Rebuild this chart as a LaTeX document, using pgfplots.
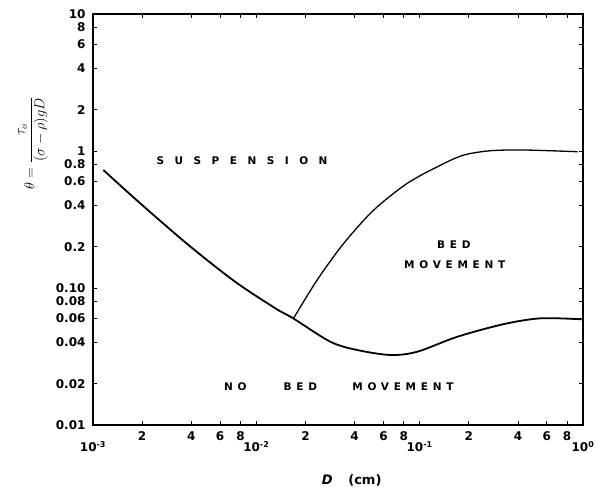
\documentclass[border=0pt]{standalone}
\usepackage{fontspec}
\setmainfont{DejaVu Sans}
\newfontfamily\widefont[LetterSpace=100]{DejaVu Sans}
\newfontfamily\midfont[LetterSpace=45]{DejaVu Sans}
\usepackage{pgfplots}
\pgfplotsset{compat=1.18}

\begin{document}
\begin{tikzpicture}
\begin{axis}[
    name=ax,
    xmode=log, ymode=log,
    width=490pt, height=411pt, scale only axis,
    xmin=1e-3, xmax=1, ymin=0.01, ymax=10,
    axis line style={line width=1.2pt},
    tick align=inside,
    xtick pos=both, ytick pos=both,
    major tick length=4pt,
    minor tick length=0pt,
    tick style={line width=0.8pt, black},
    xtick={0.002,0.004,0.006,0.008,0.02,0.04,0.06,0.08,0.2,0.4,0.6,0.8},
    xticklabels={2,4,6,8,2,4,6,8,2,4,6,8},
    extra x ticks={0.001,0.01,0.1,1},
    extra x tick labels={10\textsuperscript{-3},10\textsuperscript{-2},10\textsuperscript{-1},10\textsuperscript{0}},
    extra x tick style={xticklabel style={yshift=-10pt}},
    ytick={0.01,0.02,0.04,0.06,0.08,0.1,0.2,0.4,0.6,0.8,1,2,4,6,8,10},
    yticklabels={0.01,0.02,0.04,0.06,0.08,0.10,0.2,0.4,0.6,0.8,1,2,4,6,8,10},
    tick label style={font=\bfseries\fontsize{12}{14}\selectfont},
    xticklabel style={yshift=-3pt},
    yticklabel style={xshift=-4pt},
    xlabel={\textit{D}\hspace{1.2em}(cm)},
    xlabel style={at={(axis description cs:0.528,-0.134)}, anchor=center, font=\bfseries\fontsize{13}{15}\selectfont},
    ylabel={$\theta=\displaystyle\frac{\tau_o}{(\sigma-\rho)gD}$},
    ylabel style={at={(axis description cs:-0.122,0.686)}, anchor=center, font=\fontsize{14}{16}\selectfont},
]
% threshold of bed movement
\addplot[line width=1.8pt, smooth] coordinates {
    (1.157e-3,0.727) (1.896e-3,0.4266) (3.843e-3,0.206) (7.43e-3,0.111)
    (0.01308,0.0711) (0.0168,0.0601) (0.02844,0.0405) (0.04147,0.03527)
    (0.0664,0.03243) (0.0968,0.03428) (0.1703,0.0441) (0.3291,0.0546)
    (0.5525,0.0601) (0.98,0.0591)
};
% onset of suspension
\addplot[line width=1.3pt, smooth] coordinates {
    (0.0169,0.0601) (0.02357,0.1144) (0.03432,0.212) (0.0524,0.371)
    (0.084,0.581) (0.1346,0.790) (0.187,0.935) (0.2727,1.005)
    (0.4365,1.017) (0.928,0.988)
};
\node[font=\widefont\bfseries\fontsize{10.5}{12}\selectfont, anchor=west] at (axis cs:2.33e-3,0.845) {SUSPENSION};
\node[font=\midfont\bfseries\fontsize{10.5}{12}\selectfont] at (axis cs:0.162,0.206) {BED};
\node[font=\midfont\bfseries\fontsize{10.5}{12}\selectfont] at (axis cs:0.164,0.147) {MOVEMENT};
\node[font=\midfont\bfseries\fontsize{10.5}{12}\selectfont] at (axis cs:7.43e-3,0.019) {NO};
\node[font=\midfont\bfseries\fontsize{10.5}{12}\selectfont] at (axis cs:0.01862,0.019) {BED};
\node[font=\midfont\bfseries\fontsize{10.5}{12}\selectfont] at (axis cs:0.079,0.019) {MOVEMENT};
\end{axis}
\pgfresetboundingbox
\path ([shift={(-93pt,-61pt)}]ax.south west) rectangle ([shift={(12pt,14pt)}]ax.north east);
\end{tikzpicture}
\end{document}
